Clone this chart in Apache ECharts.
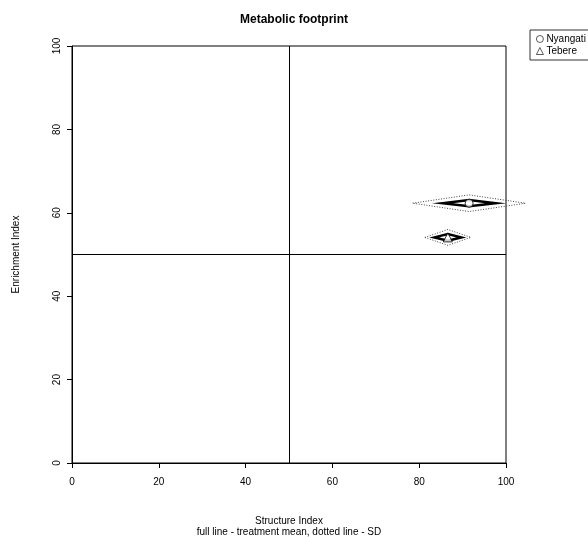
<!DOCTYPE html>
<html>
<head>
<meta charset="utf-8">
<script src="https://cdn.jsdelivr.net/npm/echarts@6/dist/echarts.min.js"></script>
<style>html,body{margin:0;padding:0;background:#fff;}#c{width:588px;height:537px;}</style>
</head>
<body>
<div id="c"></div>
<script>
// ---- data ----
const treatments = ['Nyangati', 'Tebere'];
const symbols = ['circle', 'triangle'];
const structureIndex = [91.5, 86.6];
const enrichmentIndex = [62.3, 54.1];
// full-line footprint (treatment mean) half-spans
const meanSpanSI = [6.1, 3.1];
const meanSpanEI = [0.75, 0.8];
// dotted-line footprint (SD) half-spans
const sdSpanSI = [13.0, 5.3];
const sdSpanEI = [2.0, 1.9];
const xTicks = [0, 20, 40, 60, 80, 100];
const yTicks = [0, 20, 40, 60, 80, 100];
const refValue = 50;

const FONT = 'Liberation Sans, Arial, Helvetica, sans-serif';
const chart = echarts.init(document.getElementById('c'), null, {renderer: 'canvas'});

const diamondData = [];
treatments.forEach((t, i) => {
  diamondData.push([structureIndex[i], enrichmentIndex[i], sdSpanSI[i], sdSpanEI[i], 0]);
  diamondData.push([structureIndex[i], enrichmentIndex[i], meanSpanSI[i], meanSpanEI[i], 1]);
});

function renderDiamond(params, api) {
  const x = api.value(0), y = api.value(1), sx = api.value(2), sy = api.value(3), solid = api.value(4);
  const pts = [
    api.coord([x - sx, y]),
    api.coord([x, y + sy]),
    api.coord([x + sx, y]),
    api.coord([x, y - sy])
  ];
  return {
    type: 'polygon',
    shape: {points: pts},
    style: solid ? {fill: 'none', stroke: '#000', lineWidth: 2.5, lineJoin: 'miter'}
                 : {fill: 'none', stroke: '#444', lineWidth: 1, lineDash: [1, 1.6]}
  };
}

const series = [{
  type: 'custom',
  name: 'footprint',
  renderItem: renderDiamond,
  data: diamondData,
  clip: false,
  silent: true,
  z: 2,
  markLine: {
    silent: true,
    symbol: 'none',
    label: {show: false},
    lineStyle: {color: '#000', width: 1, type: 'solid'},
    data: [{xAxis: refValue}, {yAxis: refValue}]
  }
}];
treatments.forEach((t, i) => {
  series.push({
    type: 'scatter',
    name: t,
    symbol: symbols[i],
    symbolSize: i === 0 ? 8 : 9,
    data: [[structureIndex[i], enrichmentIndex[i]]],
    itemStyle: {color: '#fff', borderColor: '#000', borderWidth: 1},
    z: 5,
    silent: true
  });
});

chart.setOption({
  animation: false,
  backgroundColor: '#fff',
  title: {
    text: 'Metabolic footprint',
    left: 289, top: 9, textAlign: 'center',
    textStyle: {fontFamily: FONT, fontSize: 12, fontWeight: 'bold', color: '#000'}
  },
  legend: {
    orient: 'vertical',
    left: 530, top: 30,
    data: treatments,
    itemWidth: 7, itemHeight: 7, itemGap: 2,
    padding: [4, 4, 4, 6],
    borderColor: '#333', borderWidth: 1,
    itemStyle: {color: '#fff', borderColor: '#000', borderWidth: 0.8},
    textStyle: {fontFamily: FONT, fontSize: 10, color: '#000', padding: [0, 0, 0, -2]}
  },
  grid: {
    left: 72, right: 82, top: 46, bottom: 74,
    outerBoundsMode: 'none', containLabel: false,
    show: true, borderColor: '#000', borderWidth: 1, backgroundColor: 'transparent'
  },
  xAxis: {
    type: 'value', min: xTicks[0], max: xTicks[xTicks.length - 1], interval: 20,
    name: 'Structure Index\nfull line - treatment mean, dotted line - SD',
    nameLocation: 'middle', nameGap: 53,
    nameTextStyle: {fontFamily: FONT, fontSize: 10, color: '#000', lineHeight: 11},
    axisLine: {show: true, onZero: false, lineStyle: {color: '#000', width: 1}},
    axisTick: {show: true, inside: false, length: 5, lineStyle: {color: '#000'}},
    axisLabel: {fontFamily: FONT, fontSize: 10, color: '#000', margin: 14},
    splitLine: {show: false}
  },
  yAxis: {
    type: 'value', min: yTicks[0], max: yTicks[yTicks.length - 1], interval: 20,
    name: 'Enrichment Index',
    nameLocation: 'middle', nameGap: 51, nameRotate: 90,
    nameTextStyle: {fontFamily: FONT, fontSize: 10, color: '#000'},
    axisLine: {show: true, onZero: false, lineStyle: {color: '#000', width: 1}},
    axisTick: {show: true, inside: false, length: 5, lineStyle: {color: '#000'}},
    axisLabel: {fontFamily: FONT, fontSize: 10, color: '#000', margin: 10, rotate: 90},
    splitLine: {show: false}
  },
  series: series
});
</script>
</body>
</html>
